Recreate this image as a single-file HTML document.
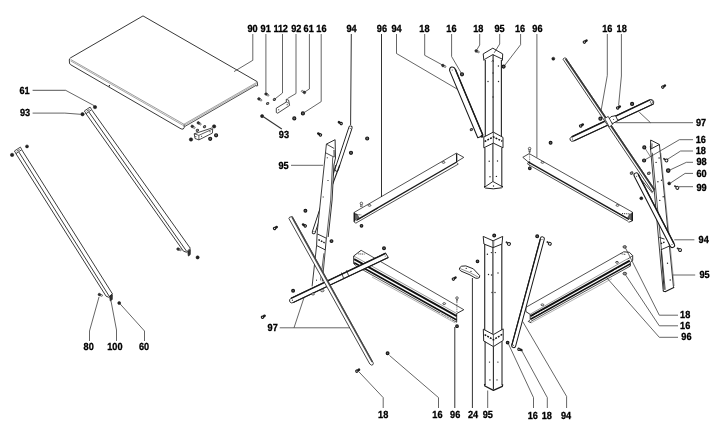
<!DOCTYPE html>
<html><head><meta charset="utf-8"><title>Exploded view</title>
<style>
html,body{margin:0;padding:0;background:#fff;}
svg{display:block;filter:grayscale(1)}
svg text{font-family:"Liberation Sans",sans-serif;font-weight:bold;font-size:10.3px;fill:#000;stroke:#000;stroke-width:0.3px;text-rendering:geometricPrecision}
</style></head><body>
<svg width="720" height="422" viewBox="0 0 720 422">
<rect x="0" y="0" width="720" height="422" fill="#fff"/>
<path d="M143,15.9 L257.1,81.6 L257.7,85.6 Q257.2,86.6 256,85.6 M143,15.9 L70.6,57.8 Q69.2,58.7 69.3,60 L69.5,63 Q69.7,64.1 70.6,64.7 L181.1,128.9 Q183.6,130 184.2,127.6 L184.1,124.4" fill="none" stroke="#222" stroke-width="0.9" stroke-linejoin="round"/>
<line x1="70.7" y1="59.5" x2="184" y2="124.3" stroke="#666" stroke-width="0.65" />
<line x1="70.5" y1="60.8" x2="183.6" y2="125.6" stroke="#777" stroke-width="0.65" />
<line x1="184" y1="124.2" x2="256.6" y2="82.5" stroke="#666" stroke-width="0.6" />
<line x1="184.2" y1="125.3" x2="256.8" y2="83.6" stroke="#777" stroke-width="0.6" />
<line x1="184.6" y1="126.6" x2="256" y2="85.4" stroke="#222" stroke-width="0.8" />
<line x1="109.4" y1="84.9" x2="109.4" y2="86.6" stroke="#222" stroke-width="1.1" />
<g transform="translate(198.9,123.2) rotate(32)"><rect x="0" y="-0.8" width="2.6" height="1.6" rx="0.5" fill="#ddd" stroke="#333" stroke-width="0.55"/><circle cx="-0.7" cy="0" r="1.35" fill="#333" stroke="#111" stroke-width="0.4"/></g>
<g transform="translate(192.8,126.7) rotate(32)"><rect x="0" y="-0.8" width="2.6" height="1.6" rx="0.5" fill="#ddd" stroke="#333" stroke-width="0.55"/><circle cx="-0.7" cy="0" r="1.35" fill="#333" stroke="#111" stroke-width="0.4"/></g>
<ellipse cx="204.5" cy="126.7" rx="1.3" ry="0.9750000000000001" transform="rotate(-30 204.5 126.7)" fill="#999" stroke="#333" stroke-width="0.9"/>
<ellipse cx="197.4" cy="130.3" rx="1.3" ry="0.9750000000000001" transform="rotate(-30 197.4 130.3)" fill="#999" stroke="#333" stroke-width="0.9"/>
<circle cx="214.1" cy="126.4" r="1.7" fill="#222" stroke="#111" stroke-width="0.5"/>
<circle cx="216.1" cy="135.3" r="1.51" fill="#666" stroke="#161616" stroke-width="1.15"/>
<circle cx="210.2" cy="138.8" r="1.51" fill="#666" stroke="#161616" stroke-width="1.15"/>
<circle cx="191" cy="139.5" r="1.7" fill="#222" stroke="#111" stroke-width="0.5"/>
<polygon points="194.2,133.8 211.6,128.1 212.7,128.9 212.4,133.1 198.9,139.9 195,138.5" fill="#fff" stroke="#1a1a1a" stroke-width="0.8" stroke-linejoin="round"/>
<polyline points="194.2,133.8 198.9,135.3 212.3,129.2" fill="none" stroke="#1a1a1a" stroke-width="0.7" stroke-linejoin="round"/>
<line x1="198.9" y1="135.3" x2="198.9" y2="139.9" stroke="#1a1a1a" stroke-width="0.7" />
<line x1="195.3" y1="136.6" x2="196.3" y2="136.6" stroke="#1a1a1a" stroke-width="0.9" />
<line x1="201.1" y1="136.3" x2="202.1" y2="136.3" stroke="#1a1a1a" stroke-width="0.9" />
<line x1="209.5" y1="131.7" x2="210.5" y2="131.7" stroke="#1a1a1a" stroke-width="0.9" />
<g transform="translate(266.6,94.3) rotate(32)"><rect x="0" y="-0.8" width="2.6" height="1.6" rx="0.5" fill="#ddd" stroke="#333" stroke-width="0.55"/><circle cx="-0.7" cy="0" r="1.35" fill="#333" stroke="#111" stroke-width="0.4"/></g>
<g transform="translate(259.5,99.2) rotate(32)"><rect x="0" y="-0.8" width="2.6" height="1.6" rx="0.5" fill="#ddd" stroke="#333" stroke-width="0.55"/><circle cx="-0.7" cy="0" r="1.35" fill="#333" stroke="#111" stroke-width="0.4"/></g>
<ellipse cx="267.6" cy="103.5" rx="1.3" ry="0.9750000000000001" transform="rotate(-30 267.6 103.5)" fill="#999" stroke="#333" stroke-width="0.9"/>
<ellipse cx="274.4" cy="99.4" rx="1.3" ry="0.9750000000000001" transform="rotate(-30 274.4 99.4)" fill="#999" stroke="#333" stroke-width="0.9"/>
<polygon points="276.3,108.2 286.3,102.1 286.3,99.2 288.6,100.2 289.6,105.4 277.7,113.2 276.3,112.5" fill="#fff" stroke="#1a1a1a" stroke-width="0.8" stroke-linejoin="round"/>
<polyline points="286.3,102.1 288.7,103.2" fill="none" stroke="#1a1a1a" stroke-width="0.6" stroke-linejoin="round"/>
<line x1="278.2" y1="109.8" x2="279.2" y2="109.8" stroke="#1a1a1a" stroke-width="0.9" />
<line x1="286.7" y1="104.7" x2="287.7" y2="104.7" stroke="#1a1a1a" stroke-width="0.9" />
<g transform="translate(303.8,92.1) rotate(-150)"><rect x="0" y="-0.8" width="2.6" height="1.6" rx="0.5" fill="#ddd" stroke="#333" stroke-width="0.55"/><circle cx="-0.7" cy="0" r="1.35" fill="#333" stroke="#111" stroke-width="0.4"/></g>
<circle cx="294.3" cy="118.4" r="1.51" fill="#666" stroke="#161616" stroke-width="1.15"/>
<circle cx="302.9" cy="113.4" r="1.51" fill="#666" stroke="#161616" stroke-width="1.15"/>
<circle cx="262.1" cy="116.1" r="1.6" fill="#222" stroke="#111" stroke-width="0.5"/>
<line x1="15.7" y1="153.3" x2="106.1" y2="296.2" stroke="#1a1a1a" stroke-width="0.85" />
<line x1="21.9" y1="150" x2="112.4" y2="293.8" stroke="#1a1a1a" stroke-width="0.85" />
<line x1="18.9" y1="152.10000000000002" x2="109.3" y2="296.4" stroke="#1a1a1a" stroke-width="0.85" />
<polygon points="14.4,151 20.4,147.1 21.8,149.6 16,153.6" fill="#fff" stroke="#1a1a1a" stroke-width="0.8" stroke-linejoin="round"/>
<line x1="16.75" y1="151.225" x2="19.549999999999997" y2="149.42499999999998" stroke="#555" stroke-width="1.0" />
<polyline points="106.1,296.2 108.5,297.2 112.4,293.8" fill="none" stroke="#1a1a1a" stroke-width="0.9" stroke-linejoin="round"/>
<polygon points="109.7,296.6 112.3,294.6 112.2,299.6 110.3,301" fill="#333" stroke="#1a1a1a" stroke-width="0.8" stroke-linejoin="round"/>
<line x1="85.5" y1="113" x2="183.5" y2="251.2" stroke="#1a1a1a" stroke-width="0.85" />
<line x1="91.9" y1="110.1" x2="190.3" y2="248.3" stroke="#1a1a1a" stroke-width="0.85" />
<line x1="88.7" y1="111.8" x2="186.7" y2="251.39999999999998" stroke="#1a1a1a" stroke-width="0.85" />
<polygon points="84.3,111 90.1,107.1 91.7,109.6 86.2,113.6" fill="#fff" stroke="#1a1a1a" stroke-width="0.8" stroke-linejoin="round"/>
<line x1="86.675" y1="111.225" x2="89.47500000000001" y2="109.42499999999998" stroke="#555" stroke-width="1.0" />
<polyline points="183.5,251.2 186.4,252.20000000000002 190.3,248.3" fill="none" stroke="#1a1a1a" stroke-width="0.9" stroke-linejoin="round"/>
<polygon points="187.8,251.6 190.3,249.4 190.2,254.6 188.4,256" fill="#333" stroke="#1a1a1a" stroke-width="0.8" stroke-linejoin="round"/>
<circle cx="95" cy="107.1" r="1.7" fill="#222" stroke="#111" stroke-width="0.5"/>
<circle cx="82.5" cy="114.2" r="1.7" fill="#222" stroke="#111" stroke-width="0.5"/>
<circle cx="27" cy="146.4" r="1.5" fill="#222" stroke="#111" stroke-width="0.5"/>
<circle cx="12.1" cy="154.9" r="1.7" fill="#222" stroke="#111" stroke-width="0.5"/>
<g transform="translate(100,294.8) rotate(20)"><rect x="0" y="-0.8" width="2.6" height="1.6" rx="0.5" fill="#ddd" stroke="#333" stroke-width="0.55"/><circle cx="-0.7" cy="0" r="1.35" fill="#333" stroke="#111" stroke-width="0.4"/></g>
<circle cx="119.2" cy="303" r="1.5" fill="#222" stroke="#111" stroke-width="0.5"/>
<g transform="translate(178.7,249.3) rotate(20)"><rect x="0" y="-0.8" width="2.6" height="1.6" rx="0.5" fill="#ddd" stroke="#333" stroke-width="0.55"/><circle cx="-0.7" cy="0" r="1.35" fill="#333" stroke="#111" stroke-width="0.4"/></g>
<circle cx="197.6" cy="257.4" r="1.6" fill="#222" stroke="#111" stroke-width="0.5"/>
<text transform="translate(252.5,31.5) scale(0.89,1)" x="0" y="0" text-anchor="middle" >90</text>
<text transform="translate(265.7,31.5) scale(0.89,1)" x="0" y="0" text-anchor="middle" >91</text>
<text transform="translate(296.3,31.5) scale(0.89,1)" x="0" y="0" text-anchor="middle" >92</text>
<text transform="translate(308.7,31.5) scale(0.89,1)" x="0" y="0" text-anchor="middle" >61</text>
<text transform="translate(321.4,31.5) scale(0.89,1)" x="0" y="0" text-anchor="middle" >16</text>
<text transform="translate(351.5,31.5) scale(0.89,1)" x="0" y="0" text-anchor="middle" >94</text>
<text transform="translate(381.9,31.5) scale(0.89,1)" x="0" y="0" text-anchor="middle" >96</text>
<text transform="translate(396.5,31.5) scale(0.89,1)" x="0" y="0" text-anchor="middle" >94</text>
<text transform="translate(424.4,31.5) scale(0.89,1)" x="0" y="0" text-anchor="middle" >18</text>
<text transform="translate(451.4,31.5) scale(0.89,1)" x="0" y="0" text-anchor="middle" >16</text>
<text transform="translate(478.3,31.5) scale(0.89,1)" x="0" y="0" text-anchor="middle" >18</text>
<text transform="translate(499.5,31.5) scale(0.89,1)" x="0" y="0" text-anchor="middle" >95</text>
<text transform="translate(520.1,31.5) scale(0.89,1)" x="0" y="0" text-anchor="middle" >16</text>
<text transform="translate(537.4,31.5) scale(0.89,1)" x="0" y="0" text-anchor="middle" >96</text>
<text transform="translate(607.3,31.5) scale(0.89,1)" x="0" y="0" text-anchor="middle" >16</text>
<text transform="translate(621.7,31.5) scale(0.89,1)" x="0" y="0" text-anchor="middle" >18</text>
<text transform="translate(280.6,31.5) scale(0.89,1)" x="0" y="0" text-anchor="middle" letter-spacing="-0.3">112</text>
<text transform="translate(24.6,93.8) scale(0.89,1)" x="0" y="0" text-anchor="middle" >61</text>
<text transform="translate(25.0,116.0) scale(0.89,1)" x="0" y="0" text-anchor="middle" >93</text>
<text transform="translate(283.9,138.4) scale(0.89,1)" x="0" y="0" text-anchor="middle" >93</text>
<text transform="translate(283.5,168.5) scale(0.89,1)" x="0" y="0" text-anchor="middle" >95</text>
<text transform="translate(272.7,330.5) scale(0.89,1)" x="0" y="0" text-anchor="middle" >97</text>
<text transform="translate(88.7,350.0) scale(0.89,1)" x="0" y="0" text-anchor="middle" >80</text>
<text transform="translate(114.9,350.0) scale(0.89,1)" x="0" y="0" text-anchor="middle" >100</text>
<text transform="translate(144,350.0) scale(0.89,1)" x="0" y="0" text-anchor="middle" >60</text>
<text transform="translate(383.2,417.5) scale(0.89,1)" x="0" y="0" text-anchor="middle" >18</text>
<text transform="translate(437.4,417.5) scale(0.89,1)" x="0" y="0" text-anchor="middle" >16</text>
<text transform="translate(455.2,417.5) scale(0.89,1)" x="0" y="0" text-anchor="middle" >96</text>
<text transform="translate(473,417.5) scale(0.89,1)" x="0" y="0" text-anchor="middle" >24</text>
<text transform="translate(487.8,417.5) scale(0.89,1)" x="0" y="0" text-anchor="middle" >95</text>
<text transform="translate(532.8,418.9) scale(0.89,1)" x="0" y="0" text-anchor="middle" >16</text>
<text transform="translate(546.8,418.9) scale(0.89,1)" x="0" y="0" text-anchor="middle" >18</text>
<text transform="translate(566,418.9) scale(0.89,1)" x="0" y="0" text-anchor="middle" >94</text>
<text transform="translate(701,126.0) scale(0.89,1)" x="0" y="0" text-anchor="middle" >97</text>
<text transform="translate(700.8,142.5) scale(0.89,1)" x="0" y="0" text-anchor="middle" >16</text>
<text transform="translate(700.8,153.7) scale(0.89,1)" x="0" y="0" text-anchor="middle" >18</text>
<text transform="translate(701.6,164.9) scale(0.89,1)" x="0" y="0" text-anchor="middle" >98</text>
<text transform="translate(701.6,176.5) scale(0.89,1)" x="0" y="0" text-anchor="middle" >60</text>
<text transform="translate(701.6,190.5) scale(0.89,1)" x="0" y="0" text-anchor="middle" >99</text>
<text transform="translate(703.7,243.1) scale(0.89,1)" x="0" y="0" text-anchor="middle" >94</text>
<text transform="translate(704.6,278.1) scale(0.89,1)" x="0" y="0" text-anchor="middle" >95</text>
<text transform="translate(685.2,318.1) scale(0.89,1)" x="0" y="0" text-anchor="middle" >18</text>
<text transform="translate(685.2,328.9) scale(0.89,1)" x="0" y="0" text-anchor="middle" >16</text>
<text transform="translate(686.4,340.2) scale(0.89,1)" x="0" y="0" text-anchor="middle" >96</text>
<polyline points="252.8,34 252.8,60.3 234,71.6" fill="none" stroke="#333" stroke-width="0.75" stroke-linejoin="round"/>
<polyline points="265.9,34 265.9,92" fill="none" stroke="#333" stroke-width="0.75" stroke-linejoin="round"/>
<polyline points="282.5,34 282.5,93 275.5,98.5" fill="none" stroke="#333" stroke-width="0.75" stroke-linejoin="round"/>
<polyline points="296,34 296,93.5 287.5,98.5" fill="none" stroke="#333" stroke-width="0.75" stroke-linejoin="round"/>
<polyline points="309.4,34 309.4,89 304.6,92" fill="none" stroke="#333" stroke-width="0.75" stroke-linejoin="round"/>
<polyline points="321.2,34 321.2,101.6 303.5,113" fill="none" stroke="#333" stroke-width="0.75" stroke-linejoin="round"/>
<polyline points="351.3,34 350.6,125" fill="none" stroke="#333" stroke-width="1.0" stroke-linejoin="round"/>
<polyline points="381.5,34 381.5,197" fill="none" stroke="#333" stroke-width="1.0" stroke-linejoin="round"/>
<polyline points="396.5,34 396.5,53.5 459.4,90.4" fill="none" stroke="#333" stroke-width="0.75" stroke-linejoin="round"/>
<polyline points="424.7,34 424.7,55.3 443,65.3" fill="none" stroke="#333" stroke-width="0.75" stroke-linejoin="round"/>
<polyline points="451.6,34 451.6,56.5 461.5,73.5" fill="none" stroke="#333" stroke-width="0.75" stroke-linejoin="round"/>
<polyline points="479.7,34 479.7,45 476.6,50.2" fill="none" stroke="#333" stroke-width="0.75" stroke-linejoin="round"/>
<polyline points="499.7,34 499.7,44 494.2,52.8" fill="none" stroke="#333" stroke-width="0.75" stroke-linejoin="round"/>
<polyline points="520.6,34 520.6,44.7 504.6,65.5" fill="none" stroke="#333" stroke-width="0.75" stroke-linejoin="round"/>
<polyline points="536.9,34 536.9,157.5" fill="none" stroke="#333" stroke-width="0.75" stroke-linejoin="round"/>
<polyline points="607.3,34 607.3,75.4 600.3,115.1" fill="none" stroke="#333" stroke-width="0.75" stroke-linejoin="round"/>
<polyline points="621.4,34 621.4,76 618.6,105.5" fill="none" stroke="#333" stroke-width="0.75" stroke-linejoin="round"/>
<polyline points="32.6,90.4 65.8,90.4" fill="none" stroke="#777" stroke-width="1.2" stroke-linejoin="round"/>
<polyline points="65.8,90.4 94,105.6" fill="none" stroke="#333" stroke-width="0.75" stroke-linejoin="round"/>
<polyline points="32.6,113.1 64.8,113.1 80.5,114.3" fill="none" stroke="#333" stroke-width="0.75" stroke-linejoin="round"/>
<polyline points="263,116.5 281.8,129" fill="none" stroke="#333" stroke-width="1.1" stroke-linejoin="round"/>
<polyline points="291,165.3 323,165.3" fill="none" stroke="#333" stroke-width="0.75" stroke-linejoin="round"/>
<polyline points="279.7,327.8 350,327.8" fill="none" stroke="#333" stroke-width="0.75" stroke-linejoin="round"/>
<polyline points="294,327.8 304,297.6" fill="none" stroke="#333" stroke-width="0.75" stroke-linejoin="round"/>
<polyline points="99,297 89.5,331 89.5,341" fill="none" stroke="#333" stroke-width="0.75" stroke-linejoin="round"/>
<polyline points="111,301 116.5,330 116.5,341" fill="none" stroke="#333" stroke-width="0.75" stroke-linejoin="round"/>
<polyline points="120.2,304 144.5,331 144.5,341" fill="none" stroke="#333" stroke-width="0.75" stroke-linejoin="round"/>
<polyline points="383.2,408 383.2,397.6 358.9,371.8" fill="none" stroke="#333" stroke-width="0.75" stroke-linejoin="round"/>
<polyline points="438.5,408 438.5,397.6 389.5,355.5" fill="none" stroke="#333" stroke-width="0.75" stroke-linejoin="round"/>
<polyline points="454.8,408 454.8,327" fill="none" stroke="#333" stroke-width="1.0" stroke-linejoin="round"/>
<polyline points="472.4,408 472.4,278" fill="none" stroke="#333" stroke-width="1.0" stroke-linejoin="round"/>
<polyline points="487.7,408 487.7,390.5" fill="none" stroke="#333" stroke-width="0.75" stroke-linejoin="round"/>
<polyline points="533.5,408 533.5,397.6 508.1,343.1" fill="none" stroke="#333" stroke-width="0.75" stroke-linejoin="round"/>
<polyline points="547.3,408 547.3,397.6 521.4,350" fill="none" stroke="#333" stroke-width="0.75" stroke-linejoin="round"/>
<polyline points="566.6,408 566.6,396.4 522.7,321.5" fill="none" stroke="#333" stroke-width="0.75" stroke-linejoin="round"/>
<polyline points="693,122.7 615.3,122.7" fill="none" stroke="#333" stroke-width="0.75" stroke-linejoin="round"/>
<polyline points="650.5,122.7 639.2,112.1" fill="none" stroke="#333" stroke-width="0.75" stroke-linejoin="round"/>
<polyline points="693,139.7 679.4,139.7 645,159.8" fill="none" stroke="#333" stroke-width="0.75" stroke-linejoin="round"/>
<polyline points="693,151 680.6,151 667,159.6" fill="none" stroke="#333" stroke-width="0.75" stroke-linejoin="round"/>
<polyline points="693,162.3 686.4,162.3 669.5,170.2" fill="none" stroke="#333" stroke-width="0.75" stroke-linejoin="round"/>
<polyline points="693,173.4 685.1,173.4 670.8,182.8" fill="none" stroke="#333" stroke-width="0.75" stroke-linejoin="round"/>
<polyline points="693,186.7 679,186.7" fill="none" stroke="#333" stroke-width="0.75" stroke-linejoin="round"/>
<polyline points="694.4,239.8 674.3,239.8" fill="none" stroke="#333" stroke-width="0.75" stroke-linejoin="round"/>
<polyline points="695.2,275 672.5,275" fill="none" stroke="#333" stroke-width="0.75" stroke-linejoin="round"/>
<polyline points="678,315.2 659.3,315.2 625.4,247.8" fill="none" stroke="#333" stroke-width="0.75" stroke-linejoin="round"/>
<polyline points="678,325.8 659.3,325.8 625.6,275" fill="none" stroke="#333" stroke-width="0.75" stroke-linejoin="round"/>
<polyline points="678,337.3 659.3,337.3 606.5,277.5" fill="none" stroke="#333" stroke-width="0.75" stroke-linejoin="round"/>
<line x1="485.3" y1="60" x2="485.3" y2="137" stroke="#2a2a2a" stroke-width="1.15" />
<line x1="493.1" y1="54.6" x2="493.1" y2="132.2" stroke="#2a2a2a" stroke-width="1.15" />
<line x1="501.4" y1="60" x2="501.4" y2="137" stroke="#2a2a2a" stroke-width="1.15" />
<polyline points="483.9,60.6 483.2,53.9 492.8,48.2 502.7,53.9 502.4,60.6" fill="none" stroke="#1a1a1a" stroke-width="0.95" stroke-linejoin="round"/>
<polyline points="484.2,59.6 492.8,54.6 502.4,59.2" fill="none" stroke="#1a1a1a" stroke-width="0.9" stroke-linejoin="round"/>
<polyline points="491.6,61.4 492.8,60.6 494,61.4" fill="none" stroke="#1a1a1a" stroke-width="0.8" stroke-linejoin="round"/>
<polygon points="483.8,137.1 493.3,132.1 503,137.4 503,147.8 493.3,143.1 483.8,147.8" fill="#fff" stroke="#1a1a1a" stroke-width="0.95" stroke-linejoin="round"/>
<line x1="493.3" y1="132.1" x2="493.3" y2="143.1" stroke="#1a1a1a" stroke-width="0.7" />
<polyline points="484.6,141.5 493.3,136.9 502.3,141.2" fill="none" stroke="#111" stroke-width="1.5" stroke-linejoin="round" stroke-dasharray="1.9 1.2"/>
<line x1="484.9" y1="147.8" x2="484.9" y2="186.8" stroke="#2a2a2a" stroke-width="1.1" />
<line x1="492.9" y1="143.1" x2="492.9" y2="181.5" stroke="#2a2a2a" stroke-width="1.1" />
<line x1="501.8" y1="147.8" x2="501.8" y2="186.8" stroke="#2a2a2a" stroke-width="1.1" />
<polyline points="484.4,187.3 492.9,181.5 502.5,186.8" fill="none" stroke="#1a1a1a" stroke-width="0.9" stroke-linejoin="round"/>
<path d="M484.5,186 Q484,187.6 485.4,188 Q493,189.8 501.6,187.8 Q503,187.4 502.5,186" fill="none" stroke="#1a1a1a" stroke-width="1"/>
<circle cx="498.4" cy="66" r="0.7" fill="#222"/>
<circle cx="488" cy="81.5" r="0.7" fill="#222"/>
<circle cx="498.5" cy="81.5" r="0.7" fill="#222"/>
<circle cx="493" cy="73" r="0.7" fill="#222"/>
<circle cx="493" cy="97" r="0.7" fill="#222"/>
<circle cx="489.2" cy="161.2" r="0.7" fill="#222"/>
<circle cx="497.5" cy="161" r="0.7" fill="#222"/>
<circle cx="490" cy="176.7" r="0.7" fill="#222"/>
<circle cx="496.4" cy="176.4" r="0.7" fill="#222"/>
<circle cx="493.5" cy="186" r="0.7" fill="#222"/>
<g transform="translate(476.8,51.2) rotate(25)"><rect x="0" y="-0.8" width="2.6" height="1.6" rx="0.5" fill="#ddd" stroke="#333" stroke-width="0.55"/><circle cx="-0.7" cy="0" r="1.35" fill="#333" stroke="#111" stroke-width="0.4"/></g>
<circle cx="503.6" cy="66.6" r="1.51" fill="#666" stroke="#161616" stroke-width="1.15"/>
<g transform="translate(443.5,65.8) rotate(25)"><rect x="0" y="-0.8" width="2.6" height="1.6" rx="0.5" fill="#ddd" stroke="#333" stroke-width="0.55"/><circle cx="-0.7" cy="0" r="1.35" fill="#333" stroke="#111" stroke-width="0.4"/></g>
<circle cx="462" cy="74.3" r="1.51" fill="#666" stroke="#161616" stroke-width="1.15"/>
<ellipse cx="471.4" cy="129.6" rx="1.3" ry="0.9750000000000001" transform="rotate(-30 471.4 129.6)" fill="#999" stroke="#333" stroke-width="0.9"/>
<path d="M449.6,70.6 Q449.3,67.6 451.6,67 Q454,66.6 455.2,69 L482.8,135 L482.4,136 L477.8,137.8 Z" fill="#fff" stroke="#1a1a1a" stroke-width="1.05" stroke-linejoin="round"/>
<line x1="455.2" y1="69" x2="482.8" y2="135" stroke="#1a1a1a" stroke-width="1.4" />
<circle cx="452.2" cy="70" r="0.5" fill="#222"/>
<circle cx="482" cy="136.2" r="1.2" fill="#222" stroke="#111" stroke-width="0.5"/>
<line x1="354.2" y1="212.4" x2="456.3" y2="153.2" stroke="#1a1a1a" stroke-width="0.75" />
<line x1="357" y1="219.8" x2="456.7" y2="162.0" stroke="#1a1a1a" stroke-width="1.35" />
<line x1="355.7" y1="223.2" x2="458.2" y2="164.2" stroke="#1a1a1a" stroke-width="0.75" />
<line x1="355.7" y1="220.9" x2="378" y2="208.2" stroke="#1a1a1a" stroke-width="0.6" />
<polyline points="354.2,212.4 354.2,221.8 355.7,223.3" fill="none" stroke="#1a1a1a" stroke-width="0.9" stroke-linejoin="round"/>
<polygon points="357.1,214.2 354.6,213.4 354.6,220.4 359.1,217.8" fill="#666" stroke="#1a1a1a" stroke-width="0.5" stroke-linejoin="round"/>
<line x1="354.4" y1="212.6" x2="354.4" y2="221.6" stroke="#1a1a1a" stroke-width="1.3" />
<polyline points="456.3,153.2 463.8,157.4 457,161.5" fill="none" stroke="#1a1a1a" stroke-width="0.8" stroke-linejoin="round"/>
<line x1="456.6" y1="153.6" x2="456.7" y2="162" stroke="#1a1a1a" stroke-width="1.3" />
<line x1="458.2" y1="164.2" x2="457" y2="162.6" stroke="#1a1a1a" stroke-width="0.7" />
<line x1="355.6" y1="214.6" x2="361.5" y2="214.9" stroke="#222" stroke-width="1.0" stroke-dasharray="1 0.9"/>
<ellipse cx="369.5" cy="205.4" rx="1.4" ry="0.9" fill="#fff" stroke="#111" stroke-width="0.7"/>
<ellipse cx="443.5" cy="162.4" rx="1.4" ry="0.9" fill="#fff" stroke="#111" stroke-width="0.7"/>
<rect x="360.7" y="204.20000000000002" width="1.4" height="2.6" fill="#ccc" stroke="#444" stroke-width="0.5"/><circle cx="361.4" cy="203.4" r="1.25" fill="#fff" stroke="#222" stroke-width="0.7"/>
<circle cx="361.5" cy="225.8" r="1.3" fill="#666" stroke="#161616" stroke-width="1.15"/>
<circle cx="351" cy="152.8" r="1.51" fill="#666" stroke="#161616" stroke-width="1.15"/>
<circle cx="367.2" cy="138.5" r="1.51" fill="#666" stroke="#161616" stroke-width="1.15"/>
<line x1="529.2" y1="153.6" x2="632.5" y2="212.2" stroke="#1a1a1a" stroke-width="0.75" />
<line x1="528.1" y1="161.8" x2="629" y2="219.4" stroke="#1a1a1a" stroke-width="1.35" />
<line x1="527.5" y1="164" x2="628.3" y2="221.4" stroke="#1a1a1a" stroke-width="0.75" />
<line x1="606" y1="206.4" x2="628.6" y2="219" stroke="#1a1a1a" stroke-width="0.6" />
<polyline points="529.2,153.6 522.8,157.3 528.1,161.8" fill="none" stroke="#1a1a1a" stroke-width="0.8" stroke-linejoin="round"/>
<line x1="527.5" y1="164" x2="528.3" y2="162.4" stroke="#1a1a1a" stroke-width="0.7" />
<polyline points="632.5,212.2 632.5,220.8 628.6,222.3" fill="none" stroke="#1a1a1a" stroke-width="0.9" stroke-linejoin="round"/>
<polygon points="629.6,214.2 632.1,213.4 632.1,220.4 627.6,217.8" fill="#666" stroke="#1a1a1a" stroke-width="0.5" stroke-linejoin="round"/>
<line x1="632.3" y1="212.4" x2="632.3" y2="221" stroke="#1a1a1a" stroke-width="1.3" />
<line x1="622" y1="213.6" x2="630" y2="213.9" stroke="#222" stroke-width="1.0" stroke-dasharray="1 0.9"/>
<ellipse cx="542.5" cy="162.4" rx="1.4" ry="0.9" fill="#fff" stroke="#111" stroke-width="0.7"/>
<ellipse cx="617.5" cy="205.4" rx="1.4" ry="0.9" fill="#fff" stroke="#111" stroke-width="0.7"/>
<rect x="528.9" y="149.4" width="1.4" height="2.6" fill="#ccc" stroke="#444" stroke-width="0.5"/><circle cx="529.6" cy="148.6" r="1.25" fill="#fff" stroke="#222" stroke-width="0.7"/>
<circle cx="529.8" cy="168.3" r="1.3" fill="#666" stroke="#161616" stroke-width="1.15"/>
<line x1="529.6" y1="152" x2="529.6" y2="166.5" stroke="#333" stroke-width="0.7" stroke-dasharray="1.2 1"/>
<circle cx="550.6" cy="142.8" r="1.4" fill="#666" stroke="#161616" stroke-width="1.15"/>
<line x1="361.1" y1="250.3" x2="463.8" y2="309.7" stroke="#1a1a1a" stroke-width="0.75" />
<line x1="353.7" y1="256" x2="456.7" y2="313.5" stroke="#555" stroke-width="0.6" />
<line x1="354.2" y1="259.1" x2="456.7" y2="316.1" stroke="#111" stroke-width="1.8" />
<line x1="354.2" y1="262.7" x2="456.7" y2="320" stroke="#111" stroke-width="1.6" />
<line x1="355.5" y1="265.8" x2="456.7" y2="322.3" stroke="#1a1a1a" stroke-width="0.75" />
<line x1="372" y1="277" x2="455.3" y2="323" stroke="#666" stroke-width="0.5" />
<polyline points="361.1,250.3 353.7,256 353.7,263.5 355.5,265.4" fill="none" stroke="#1a1a1a" stroke-width="0.9" stroke-linejoin="round"/>
<polyline points="463.8,309.7 456.7,313.5 456.7,322.2" fill="none" stroke="#1a1a1a" stroke-width="0.9" stroke-linejoin="round"/>
<line x1="358.4" y1="253.9" x2="364.6" y2="254.1" stroke="#222" stroke-width="1.0" stroke-dasharray="1 0.9"/>
<ellipse cx="444.2" cy="303.6" rx="1.4" ry="0.9" fill="#fff" stroke="#111" stroke-width="0.7"/>
<line x1="440" y1="313.2" x2="452" y2="319.8" stroke="#fff" stroke-width="0.8" stroke-dasharray="2 1.2"/>
<circle cx="384" cy="248.3" r="1.4" fill="#666" stroke="#161616" stroke-width="1.15"/>
<g transform="translate(454.2,278.5) rotate(-35)"><ellipse cx="1.3" cy="0" rx="1.6" ry="1.35" fill="#1c1c1c"/><circle cx="-1.0" cy="0" r="1.15" fill="#eee" stroke="#1a1a1a" stroke-width="1.15"/></g>
<rect x="456.3" y="298.8" width="1.4" height="2.6" fill="#ccc" stroke="#444" stroke-width="0.5"/><circle cx="457" cy="298" r="1.25" fill="#fff" stroke="#222" stroke-width="0.7"/>
<circle cx="457" cy="326.2" r="1.3" fill="#666" stroke="#161616" stroke-width="1.15"/>
<line x1="456.9" y1="302" x2="456.9" y2="313" stroke="#333" stroke-width="0.7" stroke-dasharray="1.2 1"/>
<line x1="525.9" y1="307.3" x2="623.7" y2="251.8" stroke="#1a1a1a" stroke-width="0.75" />
<line x1="530.2" y1="314.2" x2="627.5" y2="258.8" stroke="#555" stroke-width="0.6" />
<line x1="530.5" y1="316.2" x2="629.8" y2="260.7" stroke="#111" stroke-width="1.9" />
<line x1="530.5" y1="319.2" x2="630.3" y2="263.9" stroke="#111" stroke-width="1.6" />
<line x1="530.8" y1="321.4" x2="630.3" y2="266.1" stroke="#1a1a1a" stroke-width="0.75" />
<line x1="531.1" y1="322.9" x2="612" y2="278.6" stroke="#666" stroke-width="0.5" />
<polyline points="525.9,307.3 525.9,311.6 530.2,314.4 530.2,319.6 528.3,321.5 531.1,322.7" fill="none" stroke="#1a1a1a" stroke-width="0.9" stroke-linejoin="round"/>
<polyline points="623.7,251.8 629.4,252.3 632.7,255.6 632.7,260.4 630.3,262.3 630.3,266.2" fill="none" stroke="#1a1a1a" stroke-width="0.9" stroke-linejoin="round"/>
<line x1="632.7" y1="255.6" x2="627.5" y2="259.2" stroke="#1a1a1a" stroke-width="0.7" />
<ellipse cx="542.4" cy="304.8" rx="1.4" ry="0.9" fill="#fff" stroke="#111" stroke-width="0.7"/>
<ellipse cx="617" cy="262.3" rx="1.4" ry="0.9" fill="#fff" stroke="#111" stroke-width="0.7"/>
<line x1="534" y1="315.8" x2="546" y2="309.2" stroke="#fff" stroke-width="0.8" stroke-dasharray="2 1.2"/>
<line x1="614" y1="271" x2="626" y2="264.4" stroke="#fff" stroke-width="0.8" stroke-dasharray="2 1.2"/>
<line x1="620.5" y1="253.6" x2="626" y2="254.6" stroke="#222" stroke-width="1.0" stroke-dasharray="1 0.9"/>
<ellipse cx="624.7" cy="246.9" rx="1.7" ry="1.275" transform="rotate(0 624.7 246.9)" fill="#999" stroke="#333" stroke-width="0.9"/>
<ellipse cx="624.8" cy="273.6" rx="1.8" ry="1.35" transform="rotate(0 624.8 273.6)" fill="#999" stroke="#333" stroke-width="0.9"/>
<line x1="484.7" y1="244" x2="484.7" y2="330" stroke="#2a2a2a" stroke-width="1.15" />
<line x1="492.9" y1="247.6" x2="492.9" y2="334.6" stroke="#2a2a2a" stroke-width="1.15" />
<line x1="501.8" y1="244" x2="501.8" y2="330" stroke="#2a2a2a" stroke-width="1.15" />
<polygon points="483.9,244 483.2,236.4 493.1,240.8 502.7,236.4 502,244 493.1,247.6" fill="#fff" stroke="#1a1a1a" stroke-width="0.95" stroke-linejoin="round"/>
<line x1="492.6" y1="240.8" x2="492.8" y2="247.6" stroke="#1a1a1a" stroke-width="0.6" />
<line x1="493.8" y1="240.8" x2="493.6" y2="247.6" stroke="#1a1a1a" stroke-width="0.6" />
<polygon points="483.3,329.2 493.4,334.6 503.2,328.9 503.2,340.4 493.4,346.6 483.7,341" fill="#fff" stroke="#1a1a1a" stroke-width="0.95" stroke-linejoin="round"/>
<line x1="493.4" y1="334.6" x2="493.4" y2="346.6" stroke="#1a1a1a" stroke-width="0.7" />
<polyline points="484.6,334.6 493.4,339.8 502.3,334.4" fill="none" stroke="#111" stroke-width="1.5" stroke-linejoin="round" stroke-dasharray="1.9 1.2"/>
<line x1="485.1" y1="341.6" x2="485.1" y2="385" stroke="#2a2a2a" stroke-width="1.1" />
<line x1="493.4" y1="346.6" x2="493.4" y2="389.4" stroke="#2a2a2a" stroke-width="1.1" />
<line x1="502" y1="341.2" x2="502" y2="385" stroke="#2a2a2a" stroke-width="1.1" />
<polyline points="484.5,384 484.9,386 493.4,390.4 502.3,386.4 502.7,384.4" fill="none" stroke="#1a1a1a" stroke-width="1.3" stroke-linejoin="round"/>
<circle cx="487.4" cy="254.3" r="0.7" fill="#222"/>
<circle cx="491.4" cy="252.6" r="0.7" fill="#222"/>
<circle cx="495.4" cy="252.6" r="0.7" fill="#222"/>
<circle cx="488.5" cy="274.5" r="0.7" fill="#222"/>
<circle cx="498" cy="273" r="0.7" fill="#222"/>
<circle cx="491.5" cy="275" r="0.7" fill="#222"/>
<circle cx="495" cy="292.5" r="0.7" fill="#222"/>
<circle cx="492" cy="292.5" r="0.7" fill="#222"/>
<circle cx="489.5" cy="362.1" r="0.7" fill="#222"/>
<circle cx="497.9" cy="362.1" r="0.7" fill="#222"/>
<circle cx="489.9" cy="379.9" r="0.7" fill="#222"/>
<circle cx="497" cy="379.9" r="0.7" fill="#222"/>
<circle cx="494.2" cy="235.5" r="1.4" fill="#666" stroke="#161616" stroke-width="1.15"/>
<g transform="translate(508.3,243.5) rotate(-145)"><ellipse cx="1.9" cy="0" rx="1.25" ry="0.95" fill="#2a2a2a"/><circle cx="-0.8" cy="0" r="1.45" fill="#fff" stroke="#1a1a1a" stroke-width="1"/></g>
<circle cx="477.5" cy="261.3" r="1.3" fill="#666" stroke="#161616" stroke-width="1.15"/>
<circle cx="537.2" cy="236.3" r="1.4" fill="#666" stroke="#161616" stroke-width="1.15"/>
<g transform="translate(549.2,243.3) rotate(-145)"><ellipse cx="1.9" cy="0" rx="1.25" ry="0.95" fill="#2a2a2a"/><circle cx="-0.8" cy="0" r="1.45" fill="#fff" stroke="#1a1a1a" stroke-width="1"/></g>
<polygon points="459.7,267.7 461.6,266.2 465.8,265.9 473.3,268.8 479.7,275.6 479.4,277.6 477.4,278.4 475.2,278 470,274.9 460.8,271 459.4,269.4" fill="#fff" stroke="#1a1a1a" stroke-width="0.95" stroke-linejoin="round"/>
<polyline points="460.2,268.6 470.4,272.8 478.6,277.4" fill="none" stroke="#444" stroke-width="0.6" stroke-linejoin="round"/>
<circle cx="466.2" cy="268.4" r="0.6" fill="#222"/>
<circle cx="471" cy="271.4" r="0.6" fill="#222"/>
<line x1="542.3" y1="238.8" x2="513.7" y2="345.6" stroke="#1a1a1a" stroke-width="5.0" stroke-linecap="round"/>
<line x1="542.3" y1="238.8" x2="513.7" y2="345.6" stroke="#fff" stroke-width="3.0" stroke-linecap="round"/>
<line x1="540.4" y1="239.2" x2="511.8" y2="345.4" stroke="#1a1a1a" stroke-width="1.2" />
<circle cx="542" cy="239.6" r="0.5" fill="#222"/>
<circle cx="513.4" cy="345.2" r="0.5" fill="#222"/>
<circle cx="507.6" cy="342.6" r="1.3" fill="#666" stroke="#161616" stroke-width="1.15"/>
<g transform="translate(519.9,349.6) rotate(15)"><ellipse cx="1.3" cy="0" rx="1.6" ry="1.35" fill="#1c1c1c"/><circle cx="-1.0" cy="0" r="1.15" fill="#eee" stroke="#1a1a1a" stroke-width="1.15"/></g>
<line x1="350.5" y1="127.6" x2="336.6" y2="169.5" stroke="#1a1a1a" stroke-width="4.2" stroke-linecap="round"/>
<line x1="350.5" y1="127.6" x2="336.6" y2="169.5" stroke="#fff" stroke-width="2.4" stroke-linecap="round"/>
<circle cx="350.2" cy="128.6" r="0.5" fill="#222"/>
<polyline points="335.8,165 332.9,176" fill="none" stroke="#1a1a1a" stroke-width="0.9" stroke-linejoin="round"/>
<polyline points="339.7,165 332.6,184.4" fill="none" stroke="#1a1a1a" stroke-width="1.1" stroke-linejoin="round"/>
<line x1="323.2" y1="203.5" x2="313.7" y2="232.3" stroke="#1a1a1a" stroke-width="3.9" stroke-linecap="round"/>
<line x1="323.2" y1="203.5" x2="313.7" y2="232.3" stroke="#fff" stroke-width="2.1" stroke-linecap="round"/>
<circle cx="314" cy="231.4" r="0.5" fill="#222"/>
<polygon points="326.4,144.1 335.1,139.7 335.5,158 333.9,165 332.1,200 328.2,237 317.1,233.6" fill="#fff" stroke="#fff" stroke-width="0.01" stroke-linejoin="round"/>
<polyline points="326.4,144.1 335.1,139.7 335.5,158 333.9,165 332.1,200 328.2,237" fill="none" stroke="#1a1a1a" stroke-width="0.9" stroke-linejoin="round"/>
<polyline points="326.4,144.1 334.2,148.5" fill="none" stroke="#1a1a1a" stroke-width="0.8" stroke-linejoin="round"/>
<polyline points="325.6,152.8 334.2,157.2" fill="none" stroke="#1a1a1a" stroke-width="0.8" stroke-linejoin="round"/>
<line x1="326.4" y1="144.1" x2="317.1" y2="233.6" stroke="#1a1a1a" stroke-width="0.85" />
<polyline points="332.7,157.2 332.4,165 330.7,200 326.5,238.4" fill="none" stroke="#1a1a1a" stroke-width="0.7" stroke-linejoin="round"/>
<line x1="334" y1="150" x2="334.2" y2="157" stroke="#1a1a1a" stroke-width="0.9" />
<polygon points="317.1,233.8 326.3,238.2 325.3,249.9 316.6,245.5" fill="#fff" stroke="#1a1a1a" stroke-width="0.9" stroke-linejoin="round"/>
<line x1="318.4" y1="239.6" x2="324.6" y2="242.8" stroke="#111" stroke-width="1.4" stroke-dasharray="1.7 1.1"/>
<line x1="316.6" y1="245.5" x2="312.1" y2="286.3" stroke="#1a1a1a" stroke-width="0.85" />
<line x1="325.3" y1="249.9" x2="322.3" y2="281.4" stroke="#1a1a1a" stroke-width="0.8" />
<line x1="323.9" y1="253.3" x2="320.6" y2="280.4" stroke="#1a1a1a" stroke-width="0.7" />
<line x1="327.5" y1="180.5" x2="328.5" y2="180.5" stroke="#1a1a1a" stroke-width="1" />
<line x1="322.7" y1="197" x2="323.7" y2="197" stroke="#1a1a1a" stroke-width="1" />
<line x1="326.8" y1="157.8" x2="327.8" y2="157.8" stroke="#1a1a1a" stroke-width="1" />
<line x1="316.0" y1="280.2" x2="317.0" y2="280.2" stroke="#1a1a1a" stroke-width="1" />
<g transform="translate(340.3,123) rotate(-148)"><ellipse cx="1.3" cy="0" rx="1.6" ry="1.35" fill="#1c1c1c"/><circle cx="-1.0" cy="0" r="1.15" fill="#eee" stroke="#1a1a1a" stroke-width="1.15"/></g>
<g transform="translate(319.6,134.4) rotate(-148)"><ellipse cx="1.3" cy="0" rx="1.6" ry="1.35" fill="#1c1c1c"/><circle cx="-1.0" cy="0" r="1.15" fill="#eee" stroke="#1a1a1a" stroke-width="1.15"/></g>
<circle cx="305.4" cy="210.7" r="1.4" fill="#666" stroke="#161616" stroke-width="1.15"/>
<g transform="translate(304.4,225.4) rotate(-148)"><ellipse cx="1.3" cy="0" rx="1.6" ry="1.35" fill="#1c1c1c"/><circle cx="-1.0" cy="0" r="1.15" fill="#eee" stroke="#1a1a1a" stroke-width="1.15"/></g>
<g transform="translate(275.4,227.9) rotate(-35)"><ellipse cx="1.3" cy="0" rx="1.6" ry="1.35" fill="#1c1c1c"/><circle cx="-1.0" cy="0" r="1.15" fill="#eee" stroke="#1a1a1a" stroke-width="1.15"/></g>
<circle cx="331.5" cy="241.1" r="1.4" fill="#666" stroke="#161616" stroke-width="1.15"/>
<path d="M385.7,253.1 L291,298.2 Q288.6,299.8 289.8,301.8 Q291,303.6 293.2,302.6 L388.3,257.5 Z" fill="#fff" stroke="#1a1a1a" stroke-width="0.9" stroke-linejoin="round"/>
<line x1="385.7" y1="253.3" x2="291" y2="298.4" stroke="#1a1a1a" stroke-width="1.5" />
<line x1="293.2" y1="302.6" x2="388.3" y2="257.5" stroke="#1a1a1a" stroke-width="1.1" />
<circle cx="292.4" cy="300.2" r="0.6" fill="#222"/>
<circle cx="385.2" cy="255.9" r="0.5" fill="#222"/>
<line x1="341.5" y1="272.6" x2="343.5" y2="278" stroke="#1a1a1a" stroke-width="0.8" />
<line x1="346.6" y1="270.2" x2="348.6" y2="275.8" stroke="#1a1a1a" stroke-width="0.8" />
<ellipse cx="313" cy="294" rx="1.5" ry="1.1" fill="#ccc" stroke="#222" stroke-width="0.6"/>
<ellipse cx="322.3" cy="290.6" rx="1.8" ry="1.2" fill="#ccc" stroke="#222" stroke-width="0.6"/>
<path d="M288.9,218.5 L369.8,364 Q371.6,366 373,364.6 Q373.8,363.4 372.8,362 L292.3,216.5 L289.6,217.2 Z" fill="#fff" stroke="#1a1a1a" stroke-width="0.8" stroke-linejoin="round"/>
<line x1="292.0" y1="217.2" x2="372.2" y2="362" stroke="#484848" stroke-width="1.5" />
<circle cx="293.1" cy="290.7" r="1.4" fill="#666" stroke="#161616" stroke-width="1.15"/>
<g transform="translate(263.3,316.7) rotate(-35)"><ellipse cx="1.3" cy="0" rx="1.6" ry="1.35" fill="#1c1c1c"/><circle cx="-1.0" cy="0" r="1.15" fill="#eee" stroke="#1a1a1a" stroke-width="1.15"/></g>
<g transform="translate(357.7,370.6) rotate(-35)"><ellipse cx="1.3" cy="0" rx="1.6" ry="1.35" fill="#1c1c1c"/><circle cx="-1.0" cy="0" r="1.15" fill="#eee" stroke="#1a1a1a" stroke-width="1.15"/></g>
<circle cx="387.6" cy="353.3" r="1.4" fill="#666" stroke="#161616" stroke-width="1.15"/>
<path d="M649.9,99.7 L571.6,136.8 Q569.2,138.4 570.2,140.2 Q571.4,142 573.6,141 L653.5,103.9 Q654.4,101.6 652.6,100 Q651.2,99.2 649.9,99.7 Z" fill="#fff" stroke="#1a1a1a" stroke-width="0.9" stroke-linejoin="round"/>
<line x1="649.9" y1="99.9" x2="571.6" y2="137" stroke="#1a1a1a" stroke-width="1.5" />
<line x1="573.6" y1="141" x2="653.5" y2="103.9" stroke="#1a1a1a" stroke-width="1.1" />
<ellipse cx="651.6" cy="101.8" rx="1.1" ry="1.7" transform="rotate(25 651.6 101.8)" fill="#fff" stroke="#222" stroke-width="0.6"/>
<circle cx="572.4" cy="139" r="0.6" fill="#222"/>
<polygon points="615.5,115.7 611,116.6 608.6,119.4 609.6,123 613,123.4 617.9,120.5" fill="#fff" stroke="#1a1a1a" stroke-width="0.9" stroke-linejoin="round"/>
<circle cx="613.6" cy="119.6" r="0.5" fill="#222"/>
<path d="M563,59.2 L652.6,192 L654.6,189.4 L565.8,58 Q564.2,57.2 563,59.2 Z" fill="#fff" stroke="#1a1a1a" stroke-width="0.8" stroke-linejoin="round"/>
<line x1="565.6" y1="58.8" x2="654.2" y2="189.8" stroke="#383838" stroke-width="1.7" />
<polygon points="604.6,118.6 608.2,116.4 612.6,124.4 609.4,127" fill="#fff" stroke="#1a1a1a" stroke-width="0.8" stroke-linejoin="round"/>
<circle cx="553.3" cy="58.7" r="1.5" fill="#222" stroke="#111" stroke-width="0.5"/>
<g transform="translate(585.2,41.5) rotate(-35)"><ellipse cx="1.3" cy="0" rx="1.6" ry="1.35" fill="#1c1c1c"/><circle cx="-1.0" cy="0" r="1.15" fill="#eee" stroke="#1a1a1a" stroke-width="1.15"/></g>
<g transform="translate(663.6,86.5) rotate(-35)"><ellipse cx="1.3" cy="0" rx="1.6" ry="1.35" fill="#1c1c1c"/><circle cx="-1.0" cy="0" r="1.15" fill="#eee" stroke="#1a1a1a" stroke-width="1.15"/></g>
<g transform="translate(618.5,107.4) rotate(-35)"><ellipse cx="1.3" cy="0" rx="1.6" ry="1.35" fill="#1c1c1c"/><circle cx="-1.0" cy="0" r="1.15" fill="#eee" stroke="#1a1a1a" stroke-width="1.15"/></g>
<circle cx="632.1" cy="103.9" r="1.51" fill="#666" stroke="#161616" stroke-width="1.15"/>
<g transform="translate(581.5,125.4) rotate(-35)"><ellipse cx="1.3" cy="0" rx="1.6" ry="1.35" fill="#1c1c1c"/><circle cx="-1.0" cy="0" r="1.15" fill="#eee" stroke="#1a1a1a" stroke-width="1.15"/></g>
<circle cx="600.4" cy="118.7" r="1.51" fill="#666" stroke="#161616" stroke-width="1.15"/>
<polyline points="650.5,150 650.7,140 659.4,144.5 650.7,149.1" fill="none" stroke="#1a1a1a" stroke-width="0.95" stroke-linejoin="round"/>
<line x1="652" y1="143.4" x2="651.8" y2="148.4" stroke="#1a1a1a" stroke-width="0.8" />
<line x1="650.3" y1="146" x2="663.1" y2="289.8" stroke="#2a2a2a" stroke-width="0.9" />
<line x1="652.3" y1="152.8" x2="665.2" y2="289.8" stroke="#2a2a2a" stroke-width="0.8" />
<line x1="661.3" y1="251" x2="664.1" y2="289.8" stroke="#2a2a2a" stroke-width="1.0" />
<line x1="659.4" y1="144.5" x2="673.4" y2="286.3" stroke="#2a2a2a" stroke-width="0.95" />
<line x1="660.9" y1="153" x2="674.2" y2="286" stroke="#555" stroke-width="0.5" />
<polyline points="659.3,237.4 664.5,239.1" fill="none" stroke="#1a1a1a" stroke-width="0.9" stroke-linejoin="round"/>
<polyline points="660.6,249.9 669.4,246.1" fill="none" stroke="#1a1a1a" stroke-width="0.9" stroke-linejoin="round"/>
<line x1="660.8" y1="243.6" x2="664.6" y2="242" stroke="#111" stroke-width="1.3" stroke-dasharray="1.5 1"/>
<path d="M663.1,289.8 L663.4,291.2 L665.6,291.6 L673.8,287.6 L673.4,286.3" fill="none" stroke="#1a1a1a" stroke-width="1.1" stroke-linejoin="round"/>
<circle cx="656.1" cy="162.4" r="0.7" fill="#222"/>
<circle cx="659.1" cy="158" r="0.7" fill="#222"/>
<circle cx="657.9" cy="181.8" r="0.7" fill="#222"/>
<circle cx="661.5" cy="180.2" r="0.7" fill="#222"/>
<circle cx="663.2" cy="196.8" r="0.7" fill="#222"/>
<circle cx="659.8" cy="200.4" r="0.7" fill="#222"/>
<circle cx="667.5" cy="263.2" r="0.7" fill="#222"/>
<circle cx="670.2" cy="280" r="0.7" fill="#222"/>
<line x1="636.3" y1="175.2" x2="672.3" y2="245.2" stroke="#1a1a1a" stroke-width="5.6499999999999995" stroke-linecap="round"/>
<line x1="636.3" y1="175.2" x2="672.3" y2="245.2" stroke="#fff" stroke-width="3.55" stroke-linecap="round"/>
<line x1="638.2" y1="174.4" x2="674" y2="243.6" stroke="#1a1a1a" stroke-width="1.3" />
<circle cx="636.6" cy="176.2" r="0.5" fill="#222"/>
<circle cx="672" cy="244.4" r="0.5" fill="#222"/>
<polyline points="641.9,180.2 652.6,193.2" fill="none" stroke="#1a1a1a" stroke-width="0.8" stroke-linejoin="round"/>
<circle cx="644.3" cy="147.4" r="1.51" fill="#666" stroke="#161616" stroke-width="1.15"/>
<circle cx="644.1" cy="160.5" r="1.51" fill="#666" stroke="#161616" stroke-width="1.15"/>
<line x1="645.3" y1="148.7" x2="650.3" y2="156.5" stroke="#333" stroke-width="0.6" />
<ellipse cx="631.6" cy="173.1" rx="1.5" ry="1.125" transform="rotate(-30 631.6 173.1)" fill="#999" stroke="#333" stroke-width="0.9"/>
<ellipse cx="648.8" cy="173.3" rx="1.5" ry="1.125" transform="rotate(-30 648.8 173.3)" fill="#999" stroke="#333" stroke-width="0.9"/>
<circle cx="641.3" cy="198.3" r="1.5" fill="#222" stroke="#111" stroke-width="0.5"/>
<g transform="translate(665.8,160) rotate(-145)"><ellipse cx="1.9" cy="0" rx="1.25" ry="0.95" fill="#2a2a2a"/><circle cx="-0.8" cy="0" r="1.45" fill="#fff" stroke="#1a1a1a" stroke-width="1"/></g>
<circle cx="668.2" cy="170.6" r="1.73" fill="#666" stroke="#161616" stroke-width="1.15"/>
<circle cx="669.2" cy="183.4" r="1.5" fill="#222" stroke="#111" stroke-width="0.5"/>
<g transform="translate(676.7,187.4) rotate(-145)"><ellipse cx="1.9" cy="0" rx="1.25" ry="0.95" fill="#2a2a2a"/><circle cx="-0.8" cy="0" r="1.45" fill="#fff" stroke="#1a1a1a" stroke-width="1"/></g>
<g transform="translate(679.4,249.6) rotate(-145)"><ellipse cx="1.9" cy="0" rx="1.25" ry="0.95" fill="#2a2a2a"/><circle cx="-0.8" cy="0" r="1.45" fill="#fff" stroke="#1a1a1a" stroke-width="1"/></g>
</svg>
</body></html>
